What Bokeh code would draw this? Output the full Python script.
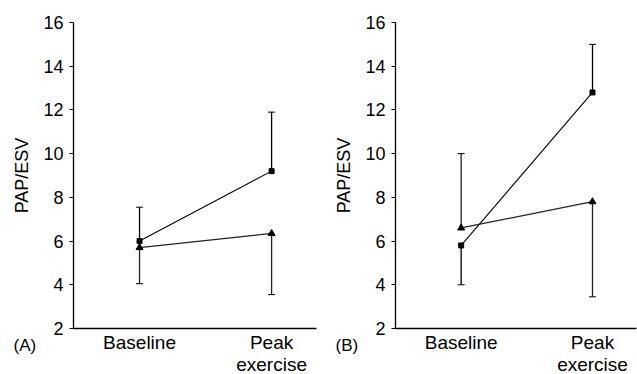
from bokeh.plotting import figure
from bokeh.layouts import row
from bokeh.models import Range1d, FixedTicker, Title, LinearAxis
from bokeh.embed import file_html
from bokeh.resources import INLINE

# ---- data ----
categories = ["Baseline", "Peak\nexercise"]
cat_pos = [1, 2]
y_ticks = [2, 4, 6, 8, 10, 12, 14, 16]

# Panel A
a_square_mean = [6.0, 9.2]
a_square_err = [7.55, 11.9]
a_tri_mean = [5.7, 6.35]
a_tri_err = [4.05, 3.55]

# Panel B
b_square_mean = [5.8, 12.8]
b_square_err = [4.0, 15.0]
b_tri_mean = [6.6, 7.8]
b_tri_err = [10.0, 3.45]

FONT = "Liberation Sans"


def make_panel(tag, sq_mean, sq_err, tri_mean, tri_err, width, left, right, xr):
    p = figure(width=width, height=374, output_backend="svg", toolbar_location=None,
               x_range=Range1d(*xr), y_range=Range1d(2, 16),
               min_border_left=left, min_border_right=right,
               min_border_top=22, min_border_bottom=46)
    p.outline_line_color = None
    p.xgrid.visible = False
    p.ygrid.visible = False
    p.background_fill_color = "white"
    p.border_fill_color = "white"

    # y axis
    p.yaxis.ticker = FixedTicker(ticks=y_ticks)
    p.yaxis.axis_label = "PAP/ESV"
    p.yaxis.axis_label_text_font = FONT
    p.yaxis.axis_label_text_font_size = "18px"
    p.yaxis.axis_label_text_font_style = "normal"
    p.yaxis.axis_label_text_color = "black"
    p.yaxis.axis_label_standoff = 8
    p.yaxis.major_label_text_font = FONT
    p.yaxis.major_label_text_font_size = "18px"
    p.yaxis.major_label_text_color = "black"
    p.yaxis.major_label_standoff = 6
    p.yaxis.major_tick_out = 4
    p.yaxis.major_tick_in = 0
    p.yaxis.minor_tick_line_color = None
    p.yaxis.axis_line_width = 1.3
    p.yaxis.axis_line_color = "black"
    p.yaxis.major_tick_line_color = "black"

    # x axis with the category labels (no line of its own)
    lab = p.xaxis[0]
    lab.ticker = FixedTicker(ticks=cat_pos)
    lab.major_label_overrides = {c: l for c, l in zip(cat_pos, categories)}
    lab.major_label_text_font = FONT
    lab.major_label_text_font_size = "19px"
    lab.major_label_text_color = "black"
    lab.major_label_text_line_height = 1.05
    lab.major_label_standoff = -38
    lab.major_tick_line_color = None
    lab.minor_tick_line_color = None
    lab.axis_line_color = None
    lab.axis_label = " "
    lab.axis_label_text_font_size = "1px"
    lab.axis_label_text_color = "white"
    lab.axis_label_standoff = -11

    # x axis line, right at the frame
    line_axis = LinearAxis(ticker=FixedTicker(ticks=[]), major_tick_in=0, major_tick_out=0,
                           minor_tick_in=0, minor_tick_out=0, major_label_standoff=0,
                           axis_line_width=1.3, axis_line_color="black")

    # panel tag as a title in the bottom panel
    t = Title(text=tag, align="left", offset=-60, vertical_align="top", standoff=14,
              text_font=FONT, text_font_size="17px", text_font_style="normal",
              text_color="black")
    p.below = [line_axis, t, lab]

    # error stems
    p.segment(x0=cat_pos, y0=sq_mean, x1=cat_pos, y1=sq_err, line_color="black", line_width=1.3)
    p.segment(x0=cat_pos, y0=tri_mean, x1=cat_pos, y1=tri_err, line_color="#222222", line_width=1.3)
    p.scatter(x=cat_pos, y=sq_err, marker="dash", size=7, line_color="black", line_width=1)
    p.scatter(x=cat_pos, y=tri_err, marker="dash", size=7, line_color="black", line_width=1)

    # mean lines
    p.line(x=cat_pos, y=sq_mean, line_color="black", line_width=1.1)
    p.line(x=cat_pos, y=tri_mean, line_color="#222222", line_width=1.3)
    p.scatter(x=cat_pos, y=sq_mean, marker="square", size=5, fill_color="black", line_color="black")
    p.scatter(x=cat_pos, y=tri_mean, marker="triangle", size=7, fill_color="black", line_color="black")
    return p


pa = make_panel("(A)", a_square_mean, a_square_err, a_tri_mean, a_tri_err,
                325, 73, 9, (0.5, 2.34))
pb = make_panel("(B)", b_square_mean, b_square_err, b_tri_mean, b_tri_err,
                312, 70, 1, (0.5, 2.335))

layout = row(pa, pb)
open("out.html", "w").write(file_html(layout, INLINE))
